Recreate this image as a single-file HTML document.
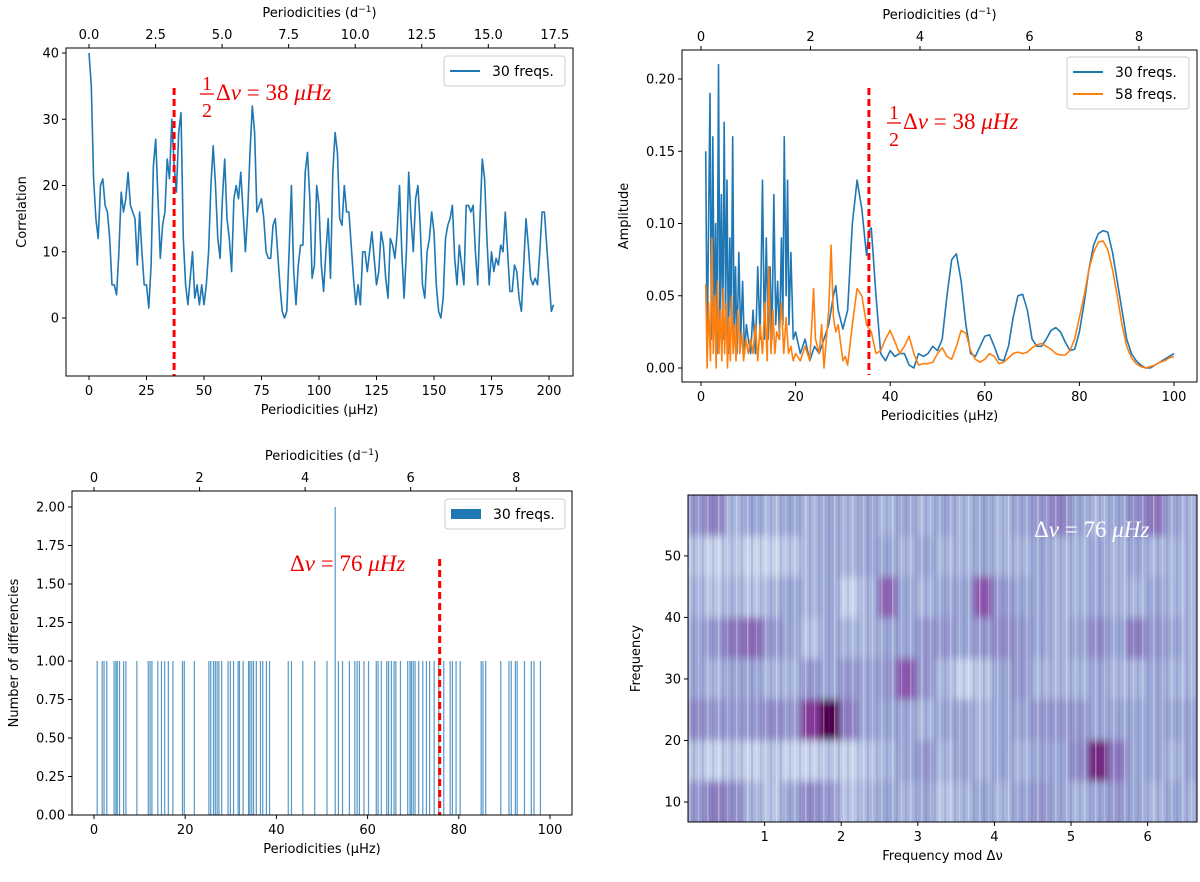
<!DOCTYPE html>
<html><head><meta charset="utf-8"><style>
html,body{margin:0;padding:0;background:#fff;}
svg{display:block;font-family:"DejaVu Sans","Liberation Sans",sans-serif;}
</style></head><body>
<svg id="fig" width="1200" height="882" viewBox="0 0 1200 882" xmlns="http://www.w3.org/2000/svg">
<defs>
<filter id="hblur" x="-5%" y="-5%" width="110%" height="110%"><feGaussianBlur stdDeviation="3 4"/></filter>
<clipPath id="clip4"><rect x="688" y="495" width="509" height="327"/></clipPath>
<pattern id="streaks" x="688" y="0" width="29" height="10" patternUnits="userSpaceOnUse">
<rect x="1" y="0" width="1.5" height="10" fill="#fff" opacity="0.35"/>
<rect x="5" y="0" width="2" height="10" fill="#7a3c9a" opacity="0.18"/>
<rect x="10" y="0" width="1.2" height="10" fill="#fff" opacity="0.25"/>
<rect x="14" y="0" width="2" height="10" fill="#6a4aa0" opacity="0.15"/>
<rect x="19" y="0" width="1.5" height="10" fill="#fff" opacity="0.3"/>
<rect x="24" y="0" width="2" height="10" fill="#7a3c9a" opacity="0.15"/>
</pattern>
</defs>
</svg>
<script>
// ---------- Panel 1: correlation (µHz, start 0 step 1) ----------
const corrStart = 0, corrStep = 1;
const corrValues = [40,35,21,15,12,20,21,17,16,12,5,5,3.5,10,19,16,18,22,17,16,15,8,16,10,5,5,1.5,8,23,27,18,9,14,16,24,21,30,23,19,28,31,12,5,2,6,10,3,5,2,5,2,5,10,20,26,20,12,9,18,24,15,12,7,18,20,18,22,16,10,16,25,32,28,16,17,18,15,10,9,9,14,15,10,5,1,0,1,10,20,7,2,8,11,11,22,25,18,6,8,20,17,8,4,10,15,6,22,28,25,15,14,20,16,16,11,6,2,5,2,10,10,7,10,13,9,5,7,13,11,6,3,12,11,9,13,20,10,3,10,22,15,10,18,20,14,5,3,10,12,16,13,5,1,0,3,12,14,15,17,9,5,11,8,5,17,17,16,17,10,5,15,24,21,12,5,10,7,9,8,11,10,16,10,4,4,8,7,3,1,8,15,11,6,5,6,5,10,16,16,11,6,1,2];
const p1XTicks = [0,25,50,75,100,125,150,175,200];
const p1YTicks = [0,10,20,30,40];
const p1TopTicks = [0.0,2.5,5.0,7.5,10.0,12.5,15.0,17.5];
const p1Marker = 37;

// ---------- Panel 2: amplitude spectra ----------
const ampBlueX = [1,1.3,1.6,1.9,2.2,2.5,2.8,3.1,3.4,3.7,4,4.3,4.6,4.9,5.2,5.5,5.8,6.1,6.4,6.7,7,7.3,7.6,8,8.4,8.8,9.2,9.6,10,10.5,11,11.5,12,12.5,13,13.4,13.8,14.2,14.6,15,15.4,15.8,16.2,16.6,17,17.3,17.6,18,18.3,18.6,19,19.5,20,21,22,23,24,25,26,27,28,28.5,29,30,31,32,33,34,35,35.5,36,37,38,39,40,41,42,43,44,45,46,47,48,49,50,51,52,53,54,55,56,57,58,59,60,61,62,63,64,65,66,67,68,69,70,71,72,73,74,75,76,77,78,79,80,81,82,83,84,85,86,87,88,89,90,91,92,93,94,95,96,97,98,99,100];
const ampBlueY = [0.15,0.01,0.10,0.19,0.02,0.16,0.03,0.10,0.01,0.21,0.03,0.12,0.02,0.17,0.04,0.13,0.01,0.09,0.03,0.16,0.02,0.07,0.01,0.08,0.02,0.06,0.01,0.03,0.02,0.01,0.04,0.01,0.07,0.02,0.13,0.02,0.09,0.02,0.07,0.02,0.12,0.03,0.06,0.02,0.09,0.03,0.16,0.05,0.13,0.03,0.08,0.02,0.025,0.01,0.02,0.005,0.015,0.01,0.02,0.03,0.05,0.057,0.04,0.027,0.04,0.1,0.13,0.11,0.078,0.095,0.097,0.05,0.01,0.005,0.012,0.008,0.01,0.01,0.002,0.0,0.01,0.008,0.01,0.015,0.012,0.02,0.05,0.075,0.079,0.06,0.03,0.01,0.008,0.015,0.022,0.023,0.015,0.006,0.005,0.015,0.035,0.05,0.051,0.04,0.02,0.015,0.015,0.02,0.026,0.028,0.025,0.018,0.012,0.013,0.025,0.045,0.068,0.085,0.093,0.095,0.094,0.08,0.06,0.04,0.02,0.01,0.005,0.002,0.0,0.0,0.002,0.004,0.006,0.008,0.01];
const ampOrangeX = [1,1.3,1.6,2,2.3,2.6,2.9,3.2,3.5,3.8,4.1,4.4,4.7,5,5.3,5.6,5.9,6.2,6.5,6.8,7.1,7.4,7.8,8.2,8.6,9,9.5,10,10.5,11,11.5,12,12.5,13,13.5,14,14.3,14.8,15.2,15.6,16,16.5,17,17.5,18,18.5,19,19.5,20,21,22,23,23.5,23.8,24.2,25,25.5,26,26.5,27,27.5,28,28.5,29,30,30.5,31,32,33,34,35,36,37,38,39,40,41,42,43,44,45,46,47,48,49,50,51,52,53,54,55,56,57,58,59,60,61,62,63,64,65,66,67,68,69,70,71,72,73,74,75,76,77,78,79,80,81,82,83,84,85,86,87,88,89,90,91,92,93,94,95,96,97,98,99,100];
const ampOrangeY = [0.058,0.0,0.045,0.005,0.09,0.01,0.05,0.0,0.06,0.01,0.04,0.005,0.055,0.01,0.045,0.0,0.035,0.005,0.05,0.01,0.03,0.005,0.04,0.01,0.025,0.005,0.02,0.01,0.02,0.01,0.03,0.005,0.03,0.01,0.045,0.005,0.07,0.01,0.04,0.01,0.025,0.02,0.045,0.01,0.035,0.01,0.015,0.005,0.01,0.005,0.015,0.005,0.035,0.055,0.02,0.01,0.03,0.0,0.02,0.04,0.085,0.035,0.025,0.03,0.005,0.008,0.002,0.03,0.055,0.05,0.03,0.025,0.01,0.012,0.02,0.026,0.018,0.01,0.015,0.022,0.01,0.002,0.003,0.003,0.004,0.01,0.014,0.008,0.006,0.015,0.026,0.024,0.012,0.006,0.004,0.006,0.01,0.008,0.003,0.004,0.007,0.01,0.011,0.01,0.011,0.014,0.016,0.017,0.015,0.013,0.01,0.009,0.009,0.012,0.02,0.035,0.05,0.068,0.08,0.087,0.088,0.082,0.068,0.05,0.03,0.015,0.007,0.003,0.001,0.0,0.001,0.002,0.004,0.005,0.007,0.008];
const p2XTicks = [0,20,40,60,80,100];
const p2YTicks = [0.00,0.05,0.10,0.15,0.20];
const p2TopTicks = [0,2,4,6,8];
const p2Marker = 35.5;

// ---------- Panel 3: histogram of differences ----------
const diffPositions = [0.7,1.8,2.2,2.8,4.4,4.8,5.1,5.6,6.5,7.0,9.4,11.9,12.3,12.7,14.0,14.8,15.5,16.3,17.3,19.4,19.8,22.0,25.2,25.6,26.2,26.6,27.0,27.4,28.0,29.4,29.9,30.6,31.6,31.9,32.7,33.9,34.2,34.6,35.0,35.6,36.5,37.0,37.8,38.5,42.6,43.3,45.8,48.4,51.1,52.9,53.6,54.5,56.0,57.2,57.7,58.2,59.2,60.2,61.9,62.3,63.0,64.2,64.6,65.2,65.8,66.2,67.2,68.8,69.3,69.6,70.0,70.4,71.2,72.1,72.9,73.6,74.6,75.6,76.7,78.1,78.6,79.4,80.3,84.9,85.3,85.9,89.2,91.0,91.5,92.4,92.8,94.4,95.9,96.5,97.9];
const diffCounts = [1,1,1,1,1,1,1,1,1,1,1,1,1,1,1,1,1,1,1,1,1,1,1,1,1,1,1,1,1,1,1,1,1,1,1,1,1,1,1,1,1,1,1,1,1,1,1,1,1,2,1,1,1,1,1,1,1,1,1,1,1,1,1,1,1,1,1,1,1,1,1,1,1,1,1,1,1,1,1,1,1,1,1,1,1,1,1,1,1,1,1,1,1,1,1];
const p3XTicks = [0,20,40,60,80,100];
const p3YTicks = [0.00,0.25,0.50,0.75,1.00,1.25,1.50,1.75,2.00];
const p3TopTicks = [0,2,4,6,8];
const p3Marker = 75.8;

// ---------- Panel 4: echelle heatmap ----------
const echelleRowStarts = [6.75,13.39,20.04,26.68,33.33,39.97,46.62,53.26];
const echelleColWidth = 0.25;
const echelleRow0 = [0.5,0.6,0.55,0.4,0.35,0.45,0.55,0.5,0.35,0.4,0.45,0.4,0.45,0.35,0.4,0.45,0.4,0.45,0.5,0.45,0.4,0.45,0.5,0.45,0.4,0.45,0.4];
const echelleRow1 = [0.35,0.3,0.35,0.3,0.35,0.3,0.3,0.35,0.3,0.35,0.4,0.45,0.5,0.4,0.45,0.4,0.45,0.4,0.45,0.45,0.55,0.88,0.62,0.45,0.45,0.4,0.45];
const echelleRow2 = [0.55,0.5,0.5,0.5,0.55,0.5,0.82,1.0,0.6,0.45,0.45,0.45,0.4,0.45,0.45,0.4,0.45,0.45,0.5,0.5,0.5,0.45,0.45,0.45,0.45,0.45,0.45];
const echelleRow3 = [0.45,0.4,0.45,0.45,0.4,0.4,0.5,0.45,0.5,0.45,0.5,0.72,0.5,0.4,0.3,0.35,0.45,0.5,0.4,0.4,0.4,0.45,0.4,0.4,0.45,0.4,0.4];
const echelleRow4 = [0.45,0.5,0.62,0.66,0.5,0.45,0.35,0.45,0.4,0.4,0.45,0.45,0.5,0.5,0.45,0.5,0.55,0.5,0.45,0.4,0.45,0.55,0.45,0.6,0.5,0.45,0.4];
const echelleRow5 = [0.4,0.35,0.4,0.35,0.4,0.45,0.4,0.45,0.3,0.4,0.68,0.45,0.4,0.45,0.45,0.72,0.5,0.45,0.45,0.4,0.4,0.45,0.4,0.4,0.45,0.4,0.4];
const echelleRow6 = [0.35,0.3,0.35,0.3,0.3,0.35,0.4,0.45,0.4,0.45,0.45,0.4,0.45,0.4,0.4,0.45,0.4,0.4,0.45,0.4,0.4,0.45,0.4,0.45,0.4,0.4,0.4];
const echelleRow7 = [0.5,0.58,0.4,0.45,0.4,0.45,0.4,0.45,0.4,0.45,0.4,0.45,0.4,0.45,0.4,0.45,0.4,0.45,0.5,0.58,0.45,0.4,0.45,0.55,0.62,0.45,0.4];
const p4XTicks = [1,2,3,4,5,6];
const p4YTicks = [10,20,30,40,50];

const NS = 'http://www.w3.org/2000/svg';
const svg = document.getElementById('fig');
function mk(tag, attrs, parent){
  const e = document.createElementNS(NS, tag);
  for (const k in attrs) e.setAttribute(k, attrs[k]);
  (parent || svg).appendChild(e);
  return e;
}
function scale(d0,d1,r0,r1){ return v => r0 + (v-d0)/(d1-d0)*(r1-r0); }
const DAY = 11.574; // µHz per d^-1

function axes(p){
  const g = mk('g', {});
  
  
  p.xTicks.forEach(t => {
    const x = p.sx(t);
    const tk = mk('line', {x1:x, x2:x, y1:p.b.y1, y2:p.b.y1+4, stroke:'#000', 'stroke-width':1}, g);
    
    
    const lb = mk('text', {x:x, y:p.b.y1+19, 'font-size':13, 'text-anchor':'middle'}, g);
    
    
    lb.textContent = p.xFmt(t);
  });
  p.yTicks.forEach(t => {
    const y = p.sy(t);
    const tk = mk('line', {x1:p.b.x0-4, x2:p.b.x0, y1:y, y2:y, stroke:'#000', 'stroke-width':1}, g);
    
    
    const lb = mk('text', {x:p.b.x0-7, y:y+4.5, 'font-size':13, 'text-anchor':'end'}, g);
    
    
    lb.textContent = p.yFmt(t);
  });
  if (p.topTicks){
    p.topTicks.forEach(t => {
      const x = p.sx(t*DAY);
      const tk = mk('line', {x1:x, x2:x, y1:p.b.y0-4, y2:p.b.y0, stroke:'#000', 'stroke-width':1}, g);
      
      
      const lb = mk('text', {x:x, y:p.b.y0-9, 'font-size':13, 'text-anchor':'middle'}, g);
      
      
      lb.textContent = p.topFmt(t);
    });
    const tt = mk('text', {x:(p.b.x0+p.b.x1)/2, y:p.b.y0-31, 'font-size':13, 'text-anchor':'middle'}, g);
    
    
    tt.innerHTML = 'Periodicities (d<tspan dy="-5" font-size="9">−1</tspan><tspan dy="5">)</tspan>';
  }
  const xt = mk('text', {x:(p.b.x0+p.b.x1)/2, y:p.b.y1+38, 'font-size':13, 'text-anchor':'middle'}, g);
  
  
  xt.textContent = p.xTitle;
  const cy = (p.b.y0+p.b.y1)/2;
  const yt = mk('text', {x:p.yTitleX, y:cy, 'font-size':13, 'text-anchor':'middle', transform:'rotate(-90 '+p.yTitleX+' '+cy+')'}, g);
  
  
  yt.textContent = p.yTitle;
  const fr = mk('rect', {x:p.b.x0, y:p.b.y0, width:p.b.x1-p.b.x0, height:p.b.y1-p.b.y0, fill:'none', stroke:'#000', 'stroke-width':1}, g);
  
  
}
function legend(x0,y0,w,entries,name){
  const g = mk('g', {});
  
  
  const r = mk('rect', {x:x0, y:y0, width:w, height:8+entries.length*22, rx:3, fill:'#fff', stroke:'#ccc', 'stroke-width':1}, g);
  
  
  entries.forEach((e,i) => {
    const y = y0+15+i*22;
    let s;
    if (e.patch) s = mk('rect', {x:x0+6, y:y-5, width:30, height:10, fill:e.color}, g);
    else s = mk('line', {x1:x0+6, x2:x0+36, y1:y, y2:y, stroke:e.color, 'stroke-width':2}, g);
    
    
    const t = mk('text', {x:x0+48, y:y+5, 'font-size':14}, g);
    
    
    t.textContent = e.label;
  });
}
function marker(x,y0,y1,name){
  const l = mk('line', {x1:x, x2:x, y1:y0, y2:y1, stroke:'#f00', 'stroke-width':3, 'stroke-dasharray':'7,4'});
  
  
}
function halfLabel(x,base,value,name){
  const g = mk('g', {fill:'#e00', 'font-family':'"Liberation Serif","DejaVu Serif",serif'});
  
  
  const n = mk('text', {x:x+7, y:base-10, 'font-size':20, 'text-anchor':'middle'}, g);
  n.textContent = '1';
  mk('line', {x1:x, x2:x+14, y1:base-6, y2:base-6, stroke:'#e00', 'stroke-width':1.3}, g);
  const d = mk('text', {x:x+7, y:base+17, 'font-size':20, 'text-anchor':'middle'}, g);
  d.textContent = '2';
  const t = mk('text', {x:x+16, y:base, 'font-size':23}, g);
  t.innerHTML = 'Δ<tspan font-style="italic">ν</tspan> = ' + value + ' <tspan font-style="italic">μHz</tspan>';
}
function plainLabel(x,base,value,color,name){
  const t = mk('text', {x:x, y:base, 'font-size':23, fill:color, 'font-family':'"Liberation Serif","DejaVu Serif",serif'});
  
  
  t.innerHTML = 'Δ<tspan font-style="italic">ν</tspan> = ' + value + ' <tspan font-style="italic">μHz</tspan>';
}
function path(xs, ys, sx, sy, color, name){
  let d = '';
  xs.forEach((x,i) => { d += (i?'L':'M') + sx(x).toFixed(2) + ',' + sy(ys[i]).toFixed(2); });
  const p = mk('path', {d:d, fill:'none', stroke:color, 'stroke-width':1.6, 'stroke-linejoin':'round'});
  
  
}

// ===== Panel 1 =====
{
  const b = {x0:66, x1:573, y0:48, y1:376};
  const sx = scale(0,200,89,549), sy = scale(0,40,318,53);
  const xs = corrValues.map((v,i) => corrStart + i*corrStep);
  path(xs, corrValues, sx, v => Math.max(b.y0, sy(v)), '#1f77b4', 'correlation-line');
  marker(sx(p1Marker), 88, b.y1, 'half-delta-nu-marker');
  axes({name:'correlation-panel', b, sx, sy, xTicks:p1XTicks, yTicks:p1YTicks, topTicks:p1TopTicks,
    xFmt:t=>String(t), yFmt:t=>String(t), topFmt:t=>t.toFixed(1),
    xTitle:'Periodicities (μHz)', yTitle:'Correlation', yTitleX:26});
  legend(444, 56, 121, [{label:'30 freqs.', color:'#1f77b4'}], 'correlation-legend');
  halfLabel(200, 100, 38, 'half-delta-nu-label');
}
// ===== Panel 2 =====
{
  const b = {x0:682, x1:1197, y0:50, y1:382};
  const sx = scale(0,100,701,1174), sy = scale(0,0.2,368,79);
  path(ampBlueX, ampBlueY, sx, sy, '#1f77b4', 'amplitude-30-freqs-line');
  path(ampOrangeX, ampOrangeY, sx, sy, '#ff7f0e', 'amplitude-58-freqs-line');
  marker(sx(p2Marker), 88, 375, 'half-delta-nu-marker-2');
  axes({name:'amplitude-panel', b, sx, sy, xTicks:p2XTicks, yTicks:p2YTicks, topTicks:p2TopTicks,
    xFmt:t=>String(t), yFmt:t=>t.toFixed(2), topFmt:t=>String(t),
    xTitle:'Periodicities (μHz)', yTitle:'Amplitude', yTitleX:628});
  legend(1067, 57, 122, [{label:'30 freqs.', color:'#1f77b4'},{label:'58 freqs.', color:'#ff7f0e'}], 'amplitude-legend');
  halfLabel(887, 129, 38, 'half-delta-nu-label-2');
}
// ===== Panel 3 =====
{
  const b = {x0:72, x1:572, y0:491, y1:815};
  const sx = scale(0,100,94,550), sy = scale(0,2,815,507);
  diffPositions.forEach((p,i) => {
    const y = sy(diffCounts[i]);
    const r = mk('rect', {x:sx(p)-0.6, y:y, width:1.2, height:b.y1-y, fill:'#1f77b4', opacity:0.75});
    
    
  });
  marker(sx(p3Marker), 559, b.y1, 'delta-nu-marker');
  axes({name:'differences-panel', b, sx, sy, xTicks:p3XTicks, yTicks:p3YTicks, topTicks:p3TopTicks,
    xFmt:t=>String(t), yFmt:t=>t.toFixed(2), topFmt:t=>String(t),
    xTitle:'Periodicities (μHz)', yTitle:'Number of differencies', yTitleX:18});
  legend(445, 499, 120, [{label:'30 freqs.', color:'#1f77b4', patch:true}], 'differences-legend');
  plainLabel(290, 571, 76, '#e00', 'delta-nu-label');
}
// ===== Panel 4 =====
{
  const b = {x0:688, x1:1197, y0:495, y1:822};
  const sx = scale(0,6.645,688,1197), sy = scale(6.75,59.9,822,495);
  const rows = [echelleRow0,echelleRow1,echelleRow2,echelleRow3,echelleRow4,echelleRow5,echelleRow6,echelleRow7];
  const stops = [[0.25,[211,227,241]],[0.45,[154,168,214]],[0.6,[140,127,192]],[0.8,[138,61,158]],[1.0,[77,0,75]]];
  function col(v){
    if (v<=stops[0][0]) return 'rgb('+stops[0][1].join(',')+')';
    for (let i=1;i<stops.length;i++){
      if (v<=stops[i][0]){
        const a=stops[i-1], c=stops[i], f=(v-a[0])/(c[0]-a[0]);
        return 'rgb('+a[1].map((q,k)=>Math.round(q+(c[1][k]-q)*f)).join(',')+')';
      }
    }
    return 'rgb(77,0,75)';
  }
  const outer = mk('g', {'clip-path':'url(#clip4)'});
  
  
  const bg = mk('rect', {x:b.x0, y:b.y0, width:b.x1-b.x0, height:b.y1-b.y0, fill:'rgb(154,168,214)'}, outer);
  
  
  const g = mk('g', {filter:'url(#hblur)'}, outer);
  rows.forEach((row,ri) => {
    const y0 = echelleRowStarts[ri];
    const y1 = ri+1<echelleRowStarts.length ? echelleRowStarts[ri+1] : 59.9;
    row.forEach((v,ci) => {
      const xa = sx(ci*echelleColWidth) - 2, xb = sx((ci+1)*echelleColWidth);
      const r = mk('rect', {x:xa, y:sy(y1)-(ri===7?10:0), width:xb-xa+2, height:sy(y0)-sy(y1)+(ri===0||ri===7?10:0), fill:col(v)}, g);
      
      
    });
  });
  const st = mk('rect', {x:b.x0, y:b.y0, width:b.x1-b.x0, height:b.y1-b.y0, fill:'url(#streaks)'}, outer);
  
  
  axes({name:'echelle-panel', b, sx, sy, xTicks:p4XTicks, yTicks:p4YTicks,
    xFmt:t=>String(t), yFmt:t=>String(t), xTitle:'Frequency mod Δν', yTitle:'Frequency', yTitleX:640});
  plainLabel(1034, 537, 76, '#fff', 'echelle-delta-nu-label');
}
</script>
</body></html>
